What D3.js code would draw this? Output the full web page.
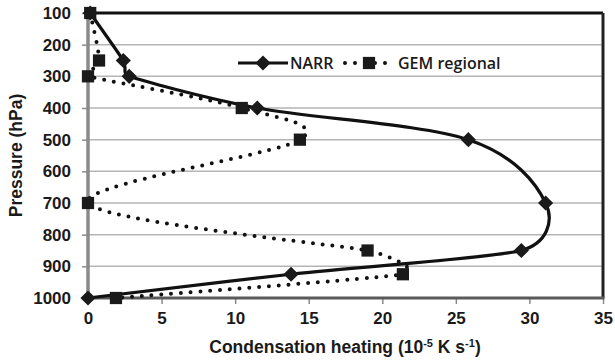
<!DOCTYPE html>
<html>
<head>
<meta charset="utf-8">
<script src="https://cdn.jsdelivr.net/npm/d3@7"></script>
<style>
  body { margin: 0; background: #fff; }
  svg { display: block; }
</style>
</head>
<body>
<div id="chart"></div>
<script>
const pressure = [100, 250, 300, 400, 500, 700, 850, 925, 1000];
const narr = [0.15, 2.4, 2.8, 11.5, 25.85, 31.1, 29.45, 13.8, 0];
const gem = [0.15, 0.75, 0, 10.45, 14.4, 0, 19.0, 21.4, 1.9];

const xTicks = [0, 5, 10, 15, 20, 25, 30, 35];
const yTicks = [100, 200, 300, 400, 500, 600, 700, 800, 900, 1000];

const seriesNames = ["NARR", "GEM regional"];

const width = 615, height = 361;
const margin = { top: 13, right: 12, bottom: 63, left: 88 };
const innerWidth = width - margin.left - margin.right;
const innerHeight = height - margin.top - margin.bottom;

const labelFont = "'Liberation Sans', Arial, sans-serif";

// spreadsheet-style smoothing: 1/6 tangents, capped at half the shorter neighbouring segment
function curveSheet(context) {
  let pts;
  return {
    areaStart() {},
    areaEnd() {},
    lineStart() { pts = []; },
    point(x, y) { pts.push([+x, +y]); },
    lineEnd() {
      const n = pts.length;
      if (!n) return;
      const dist = (a, b) => Math.hypot(b[0] - a[0], b[1] - a[1]);
      const tan = i => {
        const a = pts[Math.max(i - 1, 0)], b = pts[Math.min(i + 1, n - 1)];
        let tx = (b[0] - a[0]) / 6, ty = (b[1] - a[1]) / 6;
        const segs = [];
        if (i > 0) segs.push(dist(pts[i - 1], pts[i]));
        if (i < n - 1) segs.push(dist(pts[i], pts[i + 1]));
        const cap = Math.min(...segs) / 2;
        const len = Math.hypot(tx, ty);
        if (len > cap && len > 0) { tx *= cap / len; ty *= cap / len; }
        return [tx, ty];
      };
      context.moveTo(pts[0][0], pts[0][1]);
      for (let i = 0; i < n - 1; i++) {
        const t1 = tan(i), t2 = tan(i + 1);
        context.bezierCurveTo(
          pts[i][0] + t1[0], pts[i][1] + t1[1],
          pts[i + 1][0] - t2[0], pts[i + 1][1] - t2[1],
          pts[i + 1][0], pts[i + 1][1]
        );
      }
    }
  };
}

const svg = d3.select("#chart")
  .append("svg")
  .attr("width", width)
  .attr("height", height)
  .attr("viewBox", [0, 0, width, height]);

const xScale = d3.scaleLinear()
  .domain([0, 35])
  .range([0, innerWidth]);

const yScale = d3.scaleLinear()
  .domain([100, 1000])
  .range([0, innerHeight]);

const inner = svg.append("g")
  .attr("transform", `translate(${margin.left}, ${margin.top})`);

// gridlines
inner.append("g")
  .selectAll("line")
  .data(yTicks.slice(1, -1))
  .join("line")
  .attr("x1", 0)
  .attr("x2", innerWidth)
  .attr("y1", d => yScale(d))
  .attr("y2", d => yScale(d))
  .attr("stroke", "#b5b5b5")
  .attr("stroke-width", 1.5);

// axes
const xAxis = d3.axisBottom(xScale)
  .tickValues(xTicks)
  .tickFormat(d3.format("d"))
  .tickSize(6)
  .tickPadding(8)
  .tickSizeOuter(0);

const yAxis = d3.axisLeft(yScale)
  .tickValues(yTicks)
  .tickFormat(d3.format("d"))
  .tickSize(6)
  .tickPadding(11)
  .tickSizeOuter(0);

const gx = inner.append("g")
  .attr("transform", `translate(0, ${innerHeight})`)
  .call(xAxis);

const gy = inner.append("g")
  .call(yAxis);

[gx, gy].forEach(g => {
  g.attr("font-family", labelFont)
    .attr("font-size", 17)
    .attr("font-weight", "bold");
  g.select(".domain").remove();
  g.selectAll(".tick line").attr("stroke", "#8a8a8a").attr("stroke-width", 1.5);
  g.selectAll(".tick text").attr("fill", "#1a1a1a");
});

// frame
inner.append("line")
  .attr("x1", 0).attr("x2", innerWidth)
  .attr("y1", 0).attr("y2", 0)
  .attr("stroke", "#111").attr("stroke-width", 3);
inner.append("line")
  .attr("x1", innerWidth).attr("x2", innerWidth)
  .attr("y1", 0).attr("y2", innerHeight)
  .attr("stroke", "#222").attr("stroke-width", 3);
inner.append("line")
  .attr("x1", 0).attr("x2", innerWidth + 1.5)
  .attr("y1", innerHeight).attr("y2", innerHeight)
  .attr("stroke", "#5a5a5a").attr("stroke-width", 3);
inner.append("line")
  .attr("x1", 0).attr("x2", 0)
  .attr("y1", -1.5).attr("y2", innerHeight + 1.5)
  .attr("stroke", "#8a8a8a").attr("stroke-width", 3.5);

// series
const line = d3.line()
  .x(d => xScale(d.v))
  .y(d => yScale(d.p))
  .curve(curveSheet);

const narrData = pressure.map((p, i) => ({ p, v: narr[i] }));
const gemData = pressure.map((p, i) => ({ p, v: gem[i] }));

const diamond = d3.symbol().type(d3.symbolSquare).size(115);
const square = d3.symbol().type(d3.symbolSquare).size(150);

inner.append("path")
  .datum(narrData)
  .attr("d", line)
  .attr("fill", "none")
  .attr("stroke", "#111")
  .attr("stroke-width", 3.2);

inner.append("g")
  .selectAll("path")
  .data(narrData)
  .join("path")
  .attr("d", diamond)
  .attr("transform", d => `translate(${xScale(d.v)}, ${yScale(d.p)}) rotate(45)`)
  .attr("fill", "#1a1a1a");

inner.append("path")
  .datum(gemData)
  .attr("d", line)
  .attr("fill", "none")
  .attr("stroke", "#111")
  .attr("stroke-width", 4)
  .attr("stroke-linecap", "round")
  .attr("stroke-dasharray", "0 9.8");

inner.append("g")
  .selectAll("path")
  .data(gemData)
  .join("path")
  .attr("d", square)
  .attr("transform", d => `translate(${xScale(d.v)}, ${yScale(d.p)})`)
  .attr("fill", "#1a1a1a");

// legend
const legend = svg.append("g")
  .attr("font-family", "'Open Sans', sans-serif")
  .attr("font-weight", 600)
  .attr("font-size", 16)
  .attr("fill", "#1a1a1a");

const ly = 63;

legend.append("line")
  .attr("x1", 238).attr("x2", 288)
  .attr("y1", ly).attr("y2", ly)
  .attr("stroke", "#111").attr("stroke-width", 3.2);
legend.append("path")
  .attr("d", diamond)
  .attr("transform", `translate(263, ${ly}) rotate(45)`);
legend.append("text")
  .attr("x", 290).attr("y", ly + 5.8)
  .text(seriesNames[0]);

legend.append("line")
  .attr("x1", 345).attr("x2", 392)
  .attr("y1", ly).attr("y2", ly)
  .attr("stroke", "#111").attr("stroke-width", 4)
  .attr("stroke-linecap", "round")
  .attr("stroke-dasharray", "0 10");
legend.append("path")
  .attr("d", square)
  .attr("transform", `translate(369, ${ly})`);
legend.append("text")
  .attr("x", 398).attr("y", ly + 5.8)
  .text(seriesNames[1]);

// axis titles
svg.append("text")
  .attr("transform", `translate(21.5, ${margin.top + innerHeight / 2}) rotate(-90)`)
  .attr("text-anchor", "middle")
  .attr("font-family", labelFont)
  .attr("font-weight", "bold")
  .attr("font-size", 17.5)
  .attr("fill", "#1a1a1a")
  .text("Pressure (hPa)");

const xt = svg.append("text")
  .attr("x", 345)
  .attr("y", 353)
  .attr("text-anchor", "middle")
  .attr("font-family", labelFont)
  .attr("font-weight", "bold")
  .attr("font-size", 17.5)
  .attr("fill", "#1a1a1a");
xt.append("tspan").text("Condensation heating (10");
xt.append("tspan").attr("dy", -6).attr("font-size", 11).text("-5");
xt.append("tspan").attr("dy", 6).text(" K s");
xt.append("tspan").attr("dy", -6).attr("font-size", 11).text("-1");
xt.append("tspan").attr("dy", 6).text(")");
</script>
</body>
</html>
